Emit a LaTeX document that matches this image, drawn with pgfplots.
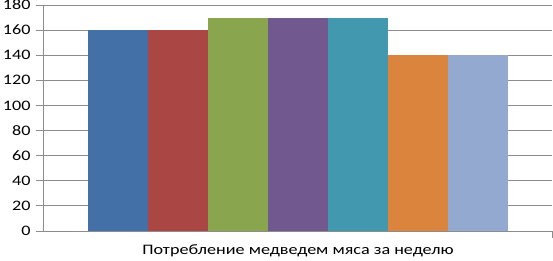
\documentclass[border=0pt]{standalone}
\usepackage{fontspec}
\setmainfont[FakeStretch=1.25]{Carlito}
\usepackage{pgfplots}
\pgfplotsset{compat=1.18}
\definecolor{c1}{HTML}{4470A8}
\definecolor{c2}{HTML}{AA4643}
\definecolor{c3}{HTML}{89A54E}
\definecolor{c4}{HTML}{71588F}
\definecolor{c5}{HTML}{4198AF}
\definecolor{c6}{HTML}{DB843D}
\definecolor{c7}{HTML}{93A9CF}
\definecolor{gridc}{HTML}{8C8C8C}
\begin{document}
\begin{tikzpicture}
\begin{axis}[
  scale only axis, width=509pt, height=226pt,
  xmin=-1.25, xmax=7.233, ymin=0, ymax=180,
  ytick={0,20,...,180},
  xtick={7.233}, xticklabels={},
  axis x line*=bottom, axis y line*=left,
  axis line style={draw=gridc, -},
  ymajorgrids, grid style={draw=gridc, line width=0.8pt},
  tick style={draw=gridc, line width=0.8pt}, tick align=outside, major tick length=7pt,
  /pgf/number format/assume math mode=true,
  yticklabel style={font=\fontsize{14.5}{16}\selectfont, xshift=-2pt},
  xlabel={Потребление медведем мяса за неделю},
  xlabel style={at={(rel axis cs:0.501,0)}, anchor=center, yshift=-20pt, font=\fontsize{14.5}{16}\selectfont},
]
\coordinate (sw) at (rel axis cs:0,0);
\coordinate (ne) at (rel axis cs:1,1);
\addplot[ybar, bar width=1, fill=c1, draw=none] coordinates {(0,160)};
\addplot[ybar, bar width=1, fill=c2, draw=none] coordinates {(1,160)};
\addplot[ybar, bar width=1, fill=c3, draw=none] coordinates {(2,170)};
\addplot[ybar, bar width=1, fill=c4, draw=none] coordinates {(3,170)};
\addplot[ybar, bar width=1, fill=c5, draw=none] coordinates {(4,170)};
\addplot[ybar, bar width=1, fill=c6, draw=none] coordinates {(5,140)};
\addplot[ybar, bar width=1, fill=c7, draw=none] coordinates {(6,140)};
\end{axis}
\pgfresetboundingbox
\path[use as bounding box] ([shift={(-43pt,-29pt)}]sw) rectangle ([shift={(1pt,5pt)}]ne);
\end{tikzpicture}
\end{document}
